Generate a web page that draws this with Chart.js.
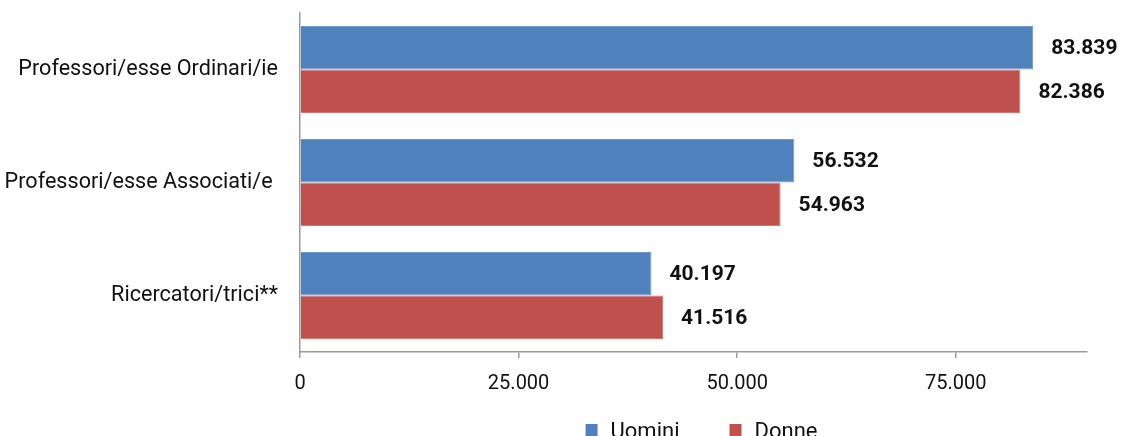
<!DOCTYPE html>
<html>
<head>
<meta charset="utf-8">
<script src="https://cdn.jsdelivr.net/npm/chart.js@4"></script>
<style>
  html, body { margin: 0; padding: 0; background: #fff; }
  #wrap { width: 1128px; height: 436px; overflow: hidden; }
</style>
</head>
<body>
<div id="wrap"><canvas id="myChart" width="1128" height="436"></canvas></div>
<script>
const categories = ['Professori/esse Ordinari/ie', 'Professori/esse Associati/e ', 'Ricercatori/trici**'];
const uomini = [83839, 56532, 40197];
const donne = [82386, 54963, 41516];
const xTicks = [0, 25000, 50000, 75000];

const fmt = v => String(Math.round(v)).replace(/\B(?=(\d{3})+(?!\d))/g, '.');

// value labels at the end of each bar
const valueLabels = {
  id: 'valueLabels',
  afterDatasetsDraw(chart) {
    const ctx = chart.ctx;
    ctx.save();
    ctx.font = 'bold 21px Roboto';
    ctx.fillStyle = '#111';
    ctx.textBaseline = 'middle';
    chart.data.datasets.forEach((ds, i) => {
      chart.getDatasetMeta(i).data.forEach((bar, j) => {
        ctx.fillText(fmt(ds.data[j]), bar.x + 18, bar.y + 1);
      });
    });
    ctx.restore();
  }
};

// legend centred under the plot area, cut by the bottom edge like the original
const bottomLegend = {
  id: 'bottomLegend',
  afterDraw(chart) {
    const ctx = chart.ctx;
    const area = chart.chartArea;
    ctx.save();
    ctx.font = '22px Roboto';
    ctx.textBaseline = 'middle';
    const box = 12, gapText = 13, gapItem = 50;
    const items = chart.data.datasets.map(ds => ({ label: ds.label, color: ds.backgroundColor }));
    let total = 0;
    items.forEach((it, i) => {
      it.w = box + gapText + ctx.measureText(it.label).width;
      total += it.w + (i ? gapItem : 0);
    });
    let x = (area.left + area.right) / 2 - total / 2 + 8;
    const y = 432;
    items.forEach(it => {
      ctx.fillStyle = it.color;
      ctx.fillRect(x, y - box / 2 - 2, box, box);
      ctx.fillStyle = '#111';
      ctx.fillText(it.label, x + box + gapText, y);
      x += it.w + gapItem;
    });
    ctx.restore();
  }
};

new Chart(document.getElementById('myChart'), {
  type: 'bar',
  data: {
    labels: categories,
    datasets: [
      {
        label: 'Uomini',
        data: uomini,
        backgroundColor: '#4F81BD',
        borderColor: '#6E9AD0',
        borderWidth: 1
      },
      {
        label: 'Donne',
        data: donne,
        backgroundColor: '#C0504D',
        borderColor: '#D87370',
        borderWidth: 1
      }
    ]
  },
  options: {
    indexAxis: 'y',
    responsive: false,
    animation: false,
    categoryPercentage: 0.77,
    barPercentage: 1,
    layout: { padding: { top: 13, right: 41, left: 0, bottom: 0 } },
    plugins: {
      legend: { display: false },
      tooltip: { enabled: false }
    },
    scales: {
      x: {
        min: 0,
        max: 90000,
        afterBuildTicks: scale => { scale.ticks = xTicks.map(v => ({ value: v })); },
        afterFit: scale => { scale.height = 84; },
        grid: { drawOnChartArea: false, drawTicks: true, tickLength: 6, color: '#9a9a9a', lineWidth: 1.5 },
        border: { color: '#9a9a9a', width: 1.5 },
        ticks: {
          padding: 14,
          color: '#111',
          font: { family: 'Roboto', size: 20 },
          callback: v => fmt(v)
        }
      },
      y: {
        afterFit: scale => {
          scale.width = 300;
          scale.paddingTop = 0;
          scale.paddingBottom = 0;
        },
        grid: { display: false },
        border: { display: true, color: '#9a9a9a', width: 1.5 },
        ticks: {
          padding: 14,
          color: '#111',
          font: { family: 'Roboto', size: 21.6 }
        }
      }
    }
  },
  plugins: [valueLabels, bottomLegend]
});
</script>
</body>
</html>
